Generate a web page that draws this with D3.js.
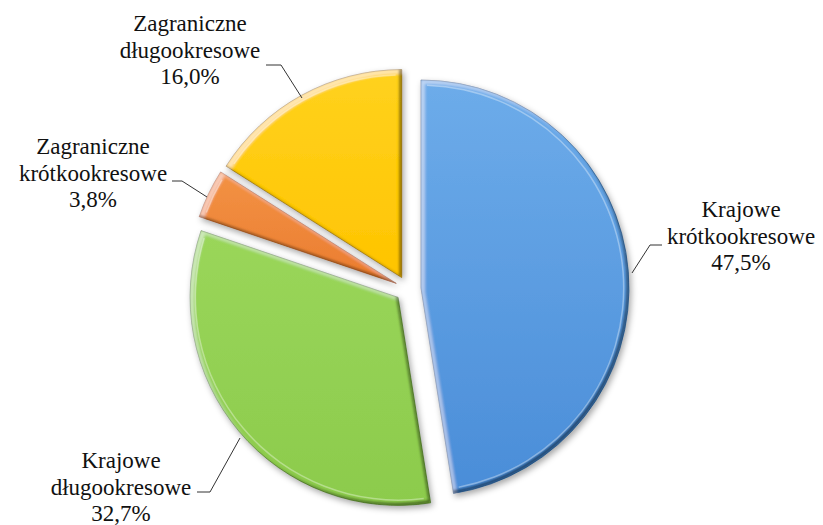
<!DOCTYPE html>
<html>
<head>
<meta charset="utf-8">
<script src="https://cdn.jsdelivr.net/npm/d3@7"></script>
<style>
  html, body { margin: 0; padding: 0; background: #fff; }
  svg { display: block; }
</style>
</head>
<body>
<svg id="chart" width="823" height="525"></svg>
<script>
// ---- data ----
const categories = ["Krajowe krótkookresowe", "Krajowe długookresowe", "Zagraniczne krótkookresowe", "Zagraniczne długookresowe"];
const labelLines = [["Krajowe", "krótkookresowe"], ["Krajowe", "długookresowe"], ["Zagraniczne", "krótkookresowe"], ["Zagraniczne", "długookresowe"]];
const values = [47.5, 32.7, 3.8, 16.0];
const valueLabels = ["47,5%", "32,7%", "3,8%", "16,0%"];
const colorsTop = ["#6DACEA", "#9AD65A", "#F39244", "#FFD21E"];
const colorsBottom = ["#4A8DD8", "#8CCB4C", "#EA7C30", "#FFC400"];
const edgeColors = ["#1F4E80", "#3E6A1A", "#9A4812", "#8A6500"];

// ---- layout ----
const svg = d3.select("#chart");
const cx = 408, cy = 289, r = 208, explode = 13;

const defs = svg.append("defs");

const f = defs.append("filter").attr("id", "bevel")
  .attr("x", "-10%").attr("y", "-10%").attr("width", "125%").attr("height", "125%");
f.append("feGaussianBlur").attr("in", "SourceAlpha").attr("stdDeviation", 3).attr("result", "sb");
f.append("feOffset").attr("in", "sb").attr("dx", 2).attr("dy", 3).attr("result", "so");
f.append("feFlood").attr("flood-color", "#000").attr("flood-opacity", 0.35).attr("result", "sc");
f.append("feComposite").attr("in", "sc").attr("in2", "so").attr("operator", "in").attr("result", "shadow");
f.append("feOffset").attr("in", "SourceAlpha").attr("dx", -3).attr("dy", -3).attr("result", "offDark");
f.append("feComposite").attr("in", "SourceAlpha").attr("in2", "offDark").attr("operator", "out").attr("result", "darkEdge0");
f.append("feGaussianBlur").attr("in", "darkEdge0").attr("stdDeviation", 1.2).attr("result", "darkEdge1");
f.append("feComposite").attr("in", "darkEdge1").attr("in2", "SourceAlpha").attr("operator", "in").attr("result", "darkEdge2");
f.append("feFlood").attr("flood-color", "#000").attr("flood-opacity", 0.75).attr("result", "dc");
f.append("feComposite").attr("in", "dc").attr("in2", "darkEdge2").attr("operator", "in").attr("result", "darkEdge");
f.append("feOffset").attr("in", "SourceAlpha").attr("dx", 4).attr("dy", 4).attr("result", "offLight");
f.append("feComposite").attr("in", "SourceAlpha").attr("in2", "offLight").attr("operator", "out").attr("result", "lightEdge0");
f.append("feGaussianBlur").attr("in", "lightEdge0").attr("stdDeviation", 1.5).attr("result", "lightEdge1");
f.append("feComposite").attr("in", "lightEdge1").attr("in2", "SourceAlpha").attr("operator", "in").attr("result", "lightEdge2");
f.append("feFlood").attr("flood-color", "#fff").attr("flood-opacity", 0.45).attr("result", "lc");
f.append("feComposite").attr("in", "lc").attr("in2", "lightEdge2").attr("operator", "in").attr("result", "lightEdge");
const merge = f.append("feMerge");
merge.append("feMergeNode").attr("in", "shadow");
merge.append("feMergeNode").attr("in", "SourceGraphic");
merge.append("feMergeNode").attr("in", "lightEdge");
merge.append("feMergeNode").attr("in", "darkEdge");

values.forEach((v, i) => {
  const g = defs.append("linearGradient").attr("id", "grad" + i)
    .attr("x1", 0).attr("y1", 0).attr("x2", 0).attr("y2", 1);
  g.append("stop").attr("offset", "0%").attr("stop-color", colorsTop[i]);
  g.append("stop").attr("offset", "100%").attr("stop-color", colorsBottom[i]);
});

const pie = d3.pie().sort(null).value(d => d).startAngle(0).endAngle(2 * Math.PI);
const arcs = pie(values);
const arc = d3.arc().innerRadius(0).outerRadius(r);

const gPie = svg.append("g").attr("transform", `translate(${cx},${cy})`);

arcs.forEach((a, i) => {
  const mid = (a.startAngle + a.endAngle) / 2;
  const dx = explode * Math.sin(mid), dy = -explode * Math.cos(mid);
  const gs = gPie.append("g").attr("transform", `translate(${dx},${dy})`);
  gs.append("path")
    .attr("d", arc(a))
    .attr("fill", `url(#grad${i})`)
    .attr("stroke", edgeColors[i])
    .attr("stroke-opacity", 0.55)
    .attr("stroke-width", 1)
    .attr("filter", "url(#bevel)");
  const hl = d3.arc().innerRadius(r - 6).outerRadius(r - 4.5)
    .startAngle(a.startAngle + 0.03).endAngle(a.endAngle - 0.03);
  gs.append("path").attr("d", hl()).attr("fill", "#fff").attr("opacity", 0.35);
});

// ---- labels ----
const labelPos = [
  { x: 741, y: 217 },
  { x: 121, y: 468 },
  { x: 93, y: 154 },
  { x: 190, y: 31 }
];
const leaders = [
  [[662, 245], [650, 245], [632, 273]],
  [[197, 492], [210, 492], [240, 438]],
  [[172, 181], [182, 181], [207, 197]],
  [[266, 65], [281, 65], [302, 98]]
];
const lineH = 26.5;

const gLab = svg.append("g");
arcs.forEach((a, i) => {
  const t = gLab.append("text")
    .attr("text-anchor", "middle")
    .attr("font-family", "Tinos, 'Times New Roman', Times, 'Liberation Serif', 'Nimbus Roman', 'FreeSerif', 'Noto Serif', 'DejaVu Serif', serif")
    .attr("font-size", 23)
    .attr("fill", "#111");
  const lines = labelLines[i].concat([valueLabels[i]]);
  lines.forEach((s, k) => {
    t.append("tspan").attr("x", labelPos[i].x).attr("y", labelPos[i].y + k * lineH).text(s);
  });
  gLab.append("path")
    .attr("d", d3.line()(leaders[i]))
    .attr("fill", "none")
    .attr("stroke", "#333")
    .attr("stroke-width", 1);
});
</script>
</body>
</html>
